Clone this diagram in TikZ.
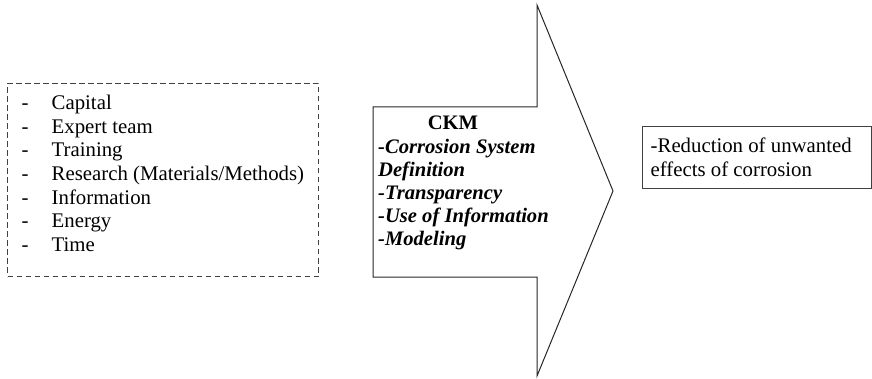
\documentclass[tikz,border=0pt]{standalone}
\usepackage{fontspec}
\setmainfont{Liberation Serif}
\begin{document}
\begin{tikzpicture}[x=1pt,y=-1pt,
  txt/.style={inner sep=0pt,font=\fontsize{20.8}{23.6}\selectfont,text=black},
  ckmtxt/.style={txt,font=\fontsize{20.6}{23.6}\selectfont\bfseries\itshape},
  ckmhead/.style={txt,font=\fontsize{20.6}{23.6}\selectfont\bfseries},
  inbox/.style={draw=black!75,line width=1pt,dash pattern=on 5.5pt off 3.5pt},
  outbox/.style={draw=black!75,line width=1.3pt},
  bigarrow/.style={draw=black!85,line width=1pt,line join=miter}]
\useasboundingbox (0,0) rectangle (872,379);
% input box
\node[inbox,anchor=north west,minimum width=311pt,minimum height=193pt,inner sep=0pt] (inputs) at (7,83) {};
\foreach \t [count=\i from 0] in {Capital,Expert team,Training,Research (Materials/Methods),Information,Energy,Time}{
  \node[txt,anchor=base west] (d\i) at (21.5,109.5+23.65*\i) {-};
  \node[txt,anchor=base west] (l\i) at (51.5,109.5+23.65*\i) {\t};
}
% big arrow
\coordinate (a1) at (373,107);
\coordinate (a2) at (537,107);
\coordinate (a3) at (537,5);
\coordinate (tip) at (613,191);
\coordinate (a5) at (537,376);
\coordinate (a6) at (537,277);
\coordinate (a7) at (373,277);
\draw[bigarrow] (a1) -- (a2) -- (a3) -- (tip) -- (a5) -- (a6) -- (a7) -- cycle;
\node[ckmhead,anchor=base] (ckm) at (453,130) {CKM};
\foreach \t [count=\i from 1] in {-Corrosion System,Definition,-Transparency,-Use of Information,-Modeling}{
  \node[ckmtxt,anchor=base west] (c\i) at (378,130+23.2*\i) {\t};
}
% output box
\node[outbox,anchor=north west,minimum width=229pt,minimum height=62pt,inner sep=0pt] (outputs) at (642,126) {};
\node[txt,anchor=base west] (o1) at (650.5,152.5) {-Reduction of unwanted};
\node[txt,anchor=base west] (o2) at (650.5,176.5) {effects of corrosion};
\end{tikzpicture}
\end{document}
